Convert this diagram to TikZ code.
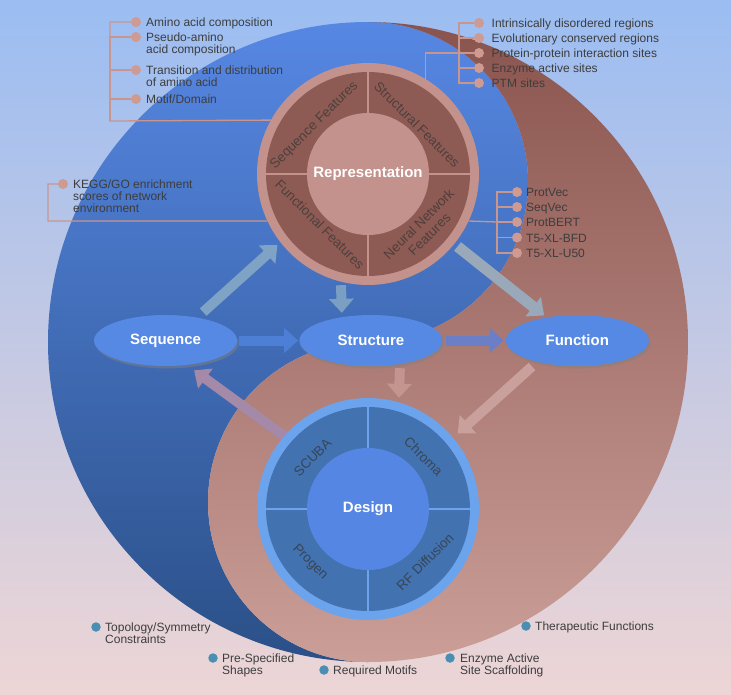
\documentclass[tikz,border=0pt]{standalone}
\usepackage{fontspec}
\setmainfont{Liberation Sans}
\usetikzlibrary{shapes.geometric,arrows.meta,shadows,positioning}

\definecolor{bgtop}{HTML}{9BBDF2}
\definecolor{bgbot}{HTML}{EDD5D5}
\definecolor{yintop}{HTML}{5687E3}
\definecolor{yinbot}{HTML}{2B5088}
\definecolor{yangtop}{HTML}{8A544E}
\definecolor{yangbot}{HTML}{CB9E98}
\definecolor{repring}{HTML}{C4928C}
\definecolor{repdark}{HTML}{8E5B54}
\definecolor{desring}{HTML}{6BA3ED}
\definecolor{desdark}{HTML}{4272AF}
\definecolor{descore}{HTML}{5686E3}
\definecolor{ovalblue}{HTML}{5689E3}
\definecolor{linkpink}{HTML}{C8968E}
\definecolor{dotpink}{HTML}{CE9A92}
\definecolor{dotteal}{HTML}{4A8FB3}
\definecolor{labelgray}{HTML}{3D3D3D}
\definecolor{arrA}{HTML}{4D7FD6}
\definecolor{arrB}{HTML}{6A7FC6}
\definecolor{arrC}{HTML}{7B9FC2}
\definecolor{arrD}{HTML}{7FA3C4}
\definecolor{arrE}{HTML}{9AA9BA}
\definecolor{arrF}{HTML}{C39490}
\definecolor{arrG}{HTML}{C9A09B}
\definecolor{arrH}{HTML}{A48AA8}

\newcommand{\capline}{\rule{0pt}{8.8pt}}

\tikzset{
  stageoval/.style={ellipse, fill=ovalblue, minimum width=143pt, minimum height=51pt,
    inner sep=0pt, text=white, font=\fontsize{15}{18}\selectfont\bfseries,
    drop shadow={shadow xshift=1.5pt, shadow yshift=-2.5pt, opacity=0.5}},
  hub/.style={circle, minimum size=222pt, inner sep=0pt},
  hubcore/.style={circle, minimum size=122pt, inner sep=0pt, text=white,
    font=\fontsize{15}{18}\selectfont\bfseries},
  feat/.style={font=\fontsize{13.5}{15}\selectfont, text=black!80, text opacity=0.7,
    align=center, inner sep=0pt},
  bigarrow/.style={line width=10pt, -{Triangle[width=24pt,length=14pt]}},
  bracketline/.style={draw=linkpink, line width=1.3pt},
  pdot/.style={circle, fill=dotpink, minimum size=10pt, inner sep=0pt},
  tdot/.style={circle, fill=dotteal, minimum size=9.5pt, inner sep=0pt},
  lbl/.style={font=\fontsize{12}{12.2}\selectfont, text=labelgray, align=left,
    inner sep=0pt, anchor=north west},
}

\begin{document}
\begin{tikzpicture}[x=1pt,y=1pt]
  \useasboundingbox (0,0) rectangle (731,-694);
  \shade[top color=bgtop, bottom color=bgbot] (0,0) rectangle (731,-694);

  % the two halves
  \shade[top color=yintop, bottom color=yinbot]
    (368,-22) arc[start angle=90, end angle=270, radius=320]
    arc[start angle=270, end angle=90, radius=160]
    arc[start angle=-90, end angle=90, radius=160] -- cycle;
  \shade[top color=yangtop, bottom color=yangbot]
    (368,-22) arc[start angle=90, end angle=-90, radius=320]
    arc[start angle=-90, end angle=-270, radius=160]
    arc[start angle=-90, end angle=90, radius=160] -- cycle;

  % representation
  \node[hub, fill=repring] (rep) at (368,-174) {};
  \fill[repdark] (rep) circle (102);
  \draw[repring, line width=1.2pt] (rep.west) -- (rep.east) (rep.north) -- (rep.south);
  \node[hubcore, fill=repring] (repcore) at (rep) {Representation};
  \node[feat, rotate=45] (seqf) at (314.5,-125.6) {Sequence Features};
  \node[feat, rotate=-45] (strf) at (417,-124.5) {Structural Features};
  \node[feat, rotate=-45] (funf) at (320,-224.5) {Functional Features};
  \node[feat, rotate=45] (nnf) at (424,-229) {Neural Network\\Features};

  % design
  \node[hub, fill=desring] (design) at (368,-509) {};
  \fill[desdark] (design) circle (102);
  \draw[desring, line width=1.2pt] (design.west) -- (design.east) (design.north) -- (design.south);
  \node[hubcore, fill=descore] (descore) at (design) {Design};
  \node[feat, rotate=45] (scuba) at (312.5,-457.5) {SCUBA};
  \node[feat, rotate=-45] (chroma) at (423.5,-456.5) {Chroma};
  \node[feat, rotate=-45] (progen) at (310,-562.5) {Progen};
  \node[feat, rotate=45] (rfd) at (425,-561.5) {RF Diffusion};

  % stages
  \node[stageoval] (seq) at (165.5,-340.5) {Sequence};
  \node[stageoval, right=62pt of seq] (struct) {Structure};
  \node[stageoval, right=63pt of struct] (func) {Function};

  \draw[bigarrow, arrA, shorten <=2pt, shorten >=1pt] (seq) -- (struct);
  \draw[bigarrow, arrB, shorten <=3pt, shorten >=2pt] (struct) -- (func);
  \draw[bigarrow, arrC, shorten >=2pt] ([xshift=-27pt]rep.south) -- ([xshift=-29pt]struct.north);
  \draw[bigarrow, arrD, shorten <=8pt, shorten >=4pt] (seq.36) -- (rep.218);
  \draw[bigarrow, arrE, line width=11pt, shorten <=4pt, shorten >=3pt] (rep.-39) -- (func.143);
  \draw[bigarrow, arrF, shorten <=2pt] ([xshift=29pt]struct.south) -- ([xshift=31pt]design.north);
  \draw[bigarrow, arrG, shorten <=7pt, shorten >=6pt] (func.208) -- (design.40);
  \draw[bigarrow, arrH, shorten >=9pt] (design.139) -- (seq.-49);

  % sequence features list
  \node[pdot] (am1) at (136,-22) {};
  \node[pdot] (am2) at (136,-37) {};
  \node[pdot] (am3) at (136,-70) {};
  \node[pdot] (am4) at (136,-99) {};
  \coordinate (amb) at (110,-121);
  \draw[bracketline] (rep.151.5) -- (amb) |- (am1);
  \draw[bracketline] (amb) |- (am2);
  \draw[bracketline] (amb) |- (am3);
  \draw[bracketline] (amb) |- (am4);
  \node[lbl] (am1t) at (146,-17.5) {\capline Amino acid composition};
  \node[lbl] (am2t) at (146,-32.5) {\capline Pseudo-amino\\acid composition};
  \node[lbl] (am3t) at (146,-65.5) {\capline Transition and distribution\\of amino acid};
  \node[lbl] (am4t) at (146,-94.5) {\capline Motif/Domain};

  % functional features list
  \node[pdot] (kg) at (63,-184) {};
  \coordinate (kgb) at (48,-221);
  \draw[bracketline] (rep.205) -- (kgb) |- (kg);
  \node[lbl] (kgt) at (73,-179.5) {\capline KEGG/GO enrichment\\scores of network\\environment};

  % structural features list
  \node[pdot] (is1) at (479,-23) {};
  \node[pdot] (is2) at (479,-38) {};
  \node[pdot] (is3) at (479,-53) {};
  \node[pdot] (is4) at (479,-68) {};
  \node[pdot] (is5) at (479,-83) {};
  \coordinate (isb) at (459,-53);
  \draw[bracketline] (rep.59.7) |- (isb);
  \draw[bracketline] (isb) |- (is1);
  \draw[bracketline] (isb) |- (is2);
  \draw[bracketline] (isb) -- (is3);
  \draw[bracketline] (isb) |- (is4);
  \draw[bracketline] (isb) |- (is5);
  \node[lbl] (is1t) at (491.5,-18.5) {\capline Intrinsically disordered regions};
  \node[lbl] (is2t) at (491.5,-33.5) {\capline Evolutionary conserved regions};
  \node[lbl] (is3t) at (491.5,-48.5) {\capline Protein-protein interaction sites};
  \node[lbl] (is4t) at (491.5,-63.5) {\capline Enzyme active sites};
  \node[lbl] (is5t) at (491.5,-78.5) {\capline PTM sites};

  % neural network features list
  \node[pdot] (pv1) at (517,-192) {};
  \node[pdot] (pv2) at (517,-207) {};
  \node[pdot] (pv3) at (517,-222) {};
  \node[pdot] (pv4) at (517,-237.5) {};
  \node[pdot] (pv5) at (517,-253) {};
  \coordinate (pvb) at (497,-222);
  \draw[bracketline] (rep.-25.6) -- (pvb);
  \draw[bracketline] (pvb) |- (pv1);
  \draw[bracketline] (pvb) |- (pv2);
  \draw[bracketline] (pvb) -- (pv3);
  \draw[bracketline] (pvb) |- (pv4);
  \draw[bracketline] (pvb) |- (pv5);
  \node[lbl] (pv1t) at (526,-187.5) {\capline ProtVec};
  \node[lbl] (pv2t) at (526,-202.5) {\capline SeqVec};
  \node[lbl] (pv3t) at (526,-217.5) {\capline ProtBERT};
  \node[lbl] (pv4t) at (526,-233) {\capline T5-XL-BFD};
  \node[lbl] (pv5t) at (526,-248.5) {\capline T5-XL-U50};

  % design goals
  \node[tdot] (tc1) at (96,-627) {};
  \node[tdot] (tc2) at (213,-658) {};
  \node[tdot] (tc3) at (324,-670) {};
  \node[tdot] (tc4) at (450,-658) {};
  \node[tdot] (tc5) at (526,-626) {};
  \node[lbl] (tc1t) at (105,-622.5) {\capline Topology/Symmetry\\Constraints};
  \node[lbl] (tc2t) at (222,-653.5) {\capline Pre-Specified\\Shapes};
  \node[lbl] (tc3t) at (333,-665.5) {\capline Required Motifs};
  \node[lbl] (tc4t) at (460,-653.5) {\capline Enzyme Active\\Site Scaffolding};
  \node[lbl] (tc5t) at (535,-621.5) {\capline Therapeutic Functions};
\end{tikzpicture}
\end{document}
